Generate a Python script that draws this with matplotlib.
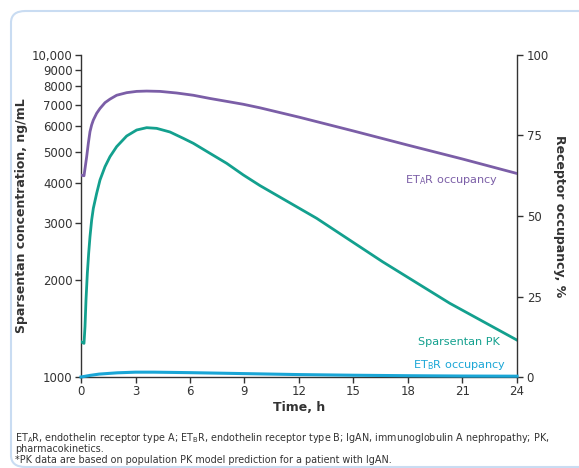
import matplotlib
matplotlib.use("Agg")
import matplotlib.pyplot as plt
from matplotlib.patches import FancyBboxPatch
from matplotlib.ticker import FixedLocator, NullLocator, FixedFormatter

# ---- data ----
time_pk = [0, 0.165, 0.22, 0.275, 0.349, 0.422, 0.495, 0.587, 0.679, 0.862, 1.046,
           1.321, 1.596, 1.963, 2.514, 3.064, 3.615, 4.165, 4.899, 5.633, 6.183,
           7.10, 8.018, 8.935, 9.853, 12.97, 16.6, 20.3, 24]
pk_conc = [1287, 1272, 1433, 1734, 2099, 2422, 2728, 3073, 3341, 3719, 4091,
           4500, 4834, 5193, 5603, 5849, 5947, 5918, 5766, 5510, 5318,
           4950, 4609, 4241, 3930, 3111, 2280, 1694, 1302]

time_eta = [0, 0.165, 0.312, 0.404, 0.495, 0.587, 0.679, 0.862, 1.046, 1.321, 1.596,
            1.963, 2.514, 3.064, 3.615, 4.349, 5.266, 6.18, 7.10, 8.02, 8.93, 9.85,
            12, 15, 18, 21, 24]
eta_occ = [62.7, 62.5, 68.4, 72.6, 76.2, 78.3, 79.8, 81.9, 83.4, 85.2, 86.3,
           87.5, 88.3, 88.7, 88.8, 88.7, 88.2, 87.5, 86.5, 85.6, 84.7, 83.6,
           80.7, 76.4, 72.0, 67.7, 63.2]

time_etb = [0, 0.5, 1, 2, 3, 4, 6, 9, 12, 15, 18, 21, 24]
etb_occ = [0.0, 0.5, 0.9, 1.3, 1.5, 1.5, 1.35, 1.05, 0.75, 0.55, 0.4, 0.3, 0.25]

x_ticks = [0, 3, 6, 9, 12, 15, 18, 21, 24]
left_ticks = [1000, 2000, 3000, 4000, 5000, 6000, 7000, 8000, 9000, 10000]
left_labels = ["1000", "2000", "3000", "4000", "5000", "6000", "7000", "8000", "9000", "10,000"]
right_ticks = [0, 25, 50, 75, 100]

footnote_lines = [
    r"ET$_{\mathregular{A}}$R, endothelin receptor type A; ET$_{\mathregular{B}}$R, endothelin receptor type B; "
    "IgAN, immunoglobulin A nephropathy; PK,",
    "pharmacokinetics.",
    "*PK data are based on population PK model prediction for a patient with IgAN.",
]

c_purple = "#7b5ea7"
c_teal = "#13a08e"
c_blue = "#1aa6d6"
c_axis = "#333333"
c_text = "#333333"

plt.rcParams["font.family"] = ["DejaVu Sans"]

fig = plt.figure(figsize=(5.79, 4.68), dpi=100)

# outer rounded border
box = FancyBboxPatch((11 / 579, 1 - 467 / 468), 1.2, 456 / 468,
                     boxstyle="round,pad=0,rounding_size=0.025",
                     transform=fig.transFigure, facecolor="none",
                     edgecolor="#c9dcf2", linewidth=1.5, clip_on=False)
fig.patches.append(box)

ax = fig.add_axes([81 / 579, 1 - 377 / 468, (517 - 81) / 579, (377 - 55) / 468])
ax.set_yscale("log")
ax.set_xlim(0, 24)
ax.set_ylim(1000, 10000)

ax.plot(time_pk, pk_conc, color=c_teal, lw=2.0, zorder=3,
        solid_joinstyle="round")

ax.xaxis.set_major_locator(FixedLocator(x_ticks))
ax.set_xticklabels([str(t) for t in x_ticks])
ax.yaxis.set_major_locator(FixedLocator(left_ticks))
ax.yaxis.set_major_formatter(FixedFormatter(left_labels))
ax.yaxis.set_minor_locator(NullLocator())

ax.spines["top"].set_visible(False)
ax.spines["right"].set_visible(False)
for s in ["left", "bottom"]:
    ax.spines[s].set_color(c_axis)
    ax.spines[s].set_linewidth(1.0)
ax.tick_params(axis="both", direction="out", length=4, width=1.0, color=c_axis,
               labelsize=8.5, labelcolor=c_text, pad=2)
ax.set_xlabel("Time, h", fontsize=9, fontweight="bold", color=c_text, labelpad=2)
ax.set_ylabel("Sparsentan concentration, ng/mL", fontsize=9, fontweight="bold",
              color=c_text, labelpad=2.5)

ax2 = ax.twinx()
ax2.set_ylim(0, 100)
ax2.plot(time_eta, eta_occ, color=c_purple, lw=2.0, zorder=3,
         solid_joinstyle="round")
ax2.plot(time_etb, etb_occ, color=c_blue, lw=2.2, zorder=3, clip_on=False,
         solid_joinstyle="round")
ax2.yaxis.set_major_locator(FixedLocator(right_ticks))
for s in ["top", "left", "bottom"]:
    ax2.spines[s].set_visible(False)
ax2.spines["right"].set_color(c_axis)
ax2.spines["right"].set_linewidth(1.0)
ax2.tick_params(axis="y", direction="out", length=4, width=1.0, color=c_axis,
                labelsize=8.5, labelcolor=c_text, pad=3)
ax2.set_ylabel("Receptor occupancy, %", fontsize=9, fontweight="bold",
               color=c_text, rotation=270, labelpad=12)

# series labels
fig.text(498 / 579, 1 - 180 / 468, r"ET$_{\mathregular{A}}$R occupancy",
         ha="right", va="center", fontsize=8.1, color=c_purple)
fig.text(500 / 579, 1 - 342 / 468, "Sparsentan PK",
         ha="right", va="center", fontsize=8.1, color=c_teal)
fig.text(506 / 579, 1 - 365 / 468, r"ET$_{\mathregular{B}}$R occupancy",
         ha="right", va="center", fontsize=8.1, color=c_blue)

# footnote, one text per line
for i, line in enumerate(footnote_lines):
    fig.text(15 / 579, 1 - (441 + 11 * i) / 468, line, ha="left", va="baseline",
             fontsize=6.9, color=c_text)

fig.savefig("out.png", dpi=100)
